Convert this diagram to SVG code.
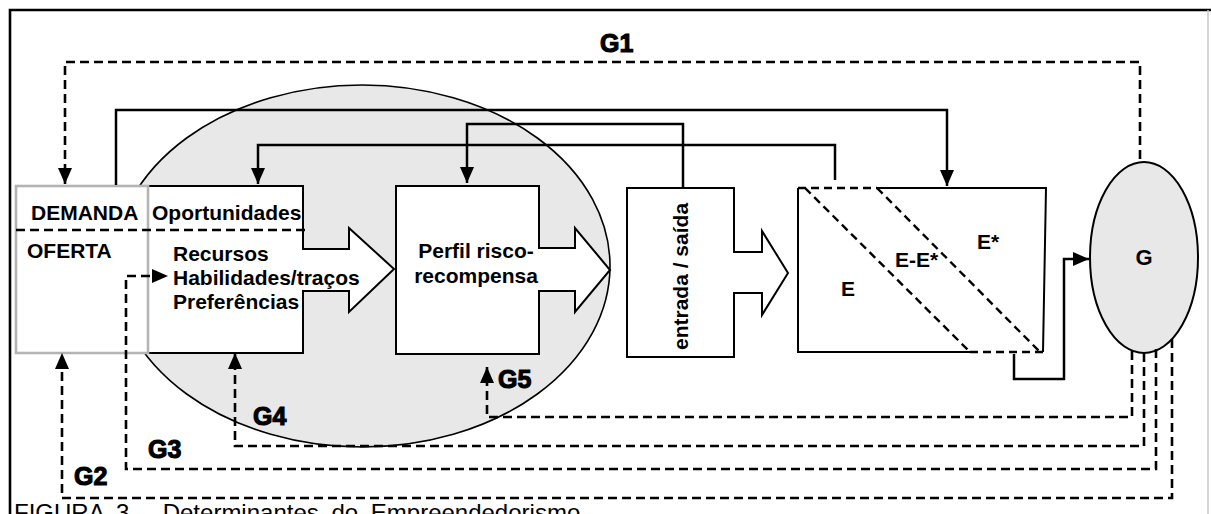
<svg xmlns="http://www.w3.org/2000/svg" width="1211" height="514" viewBox="0 0 1211 514">
<style>
  text { font-family: "Liberation Sans", Arial, sans-serif; font-weight: bold; fill: #000; }
  .lbl { font-size: 21px; }
  .glbl { font-size: 25px; stroke: #000; stroke-width: 1.1; }
  .box { fill: #fff; stroke: #000; stroke-width: 2; }
  .solid { fill: none; stroke: #000; stroke-width: 2.5; }
  .dash { fill: none; stroke: #000; stroke-width: 2.6; stroke-dasharray: 9 5; }
  .edash { fill: none; stroke: #000; stroke-width: 2.4; stroke-dasharray: 8 5; }
  .caption { font-weight: normal; font-size: 24px; }
</style>
<defs>
  <marker id="arrow" markerUnits="userSpaceOnUse" markerWidth="16" markerHeight="14" refX="16" refY="7" orient="auto">
    <path d="M0,0 L16,7 L0,14 z" fill="#000" stroke="none"/>
  </marker>
</defs>

<!-- outer frame -->
<g id="frame">
  <path d="M10,514 V10 H1211" fill="none" stroke="#000" stroke-width="2.6"/>
  <line x1="1208" y1="10" x2="1208" y2="514" stroke="#c8c8c8" stroke-width="1.5"/>
</g>

<!-- individual sphere -->
<g id="individual">
  <ellipse cx="362" cy="266" rx="248" ry="181" fill="#e8e8e8" stroke="#000" stroke-width="1.6"/>
</g>

<g id="opportunities">
  <path class="box" d="M148,186 H303 V249 H349 V228 L394,269 L349,312 V291 H303 V353 H148 Z"/>
  <text class="lbl" x="152" y="220">Oportunidades</text>
  <text class="lbl" x="173" y="261">Recursos</text>
  <text class="lbl" x="173" y="285">Habilidades/traços</text>
  <text class="lbl" x="173" y="309">Preferências</text>
</g>

<g id="demand-supply">
  <rect x="16" y="186" width="132" height="167" fill="#fff" stroke="#b4b4b4" stroke-width="2.6"/>
  <line class="dash" x1="16" y1="230" x2="307" y2="230"/>
  <text class="lbl" x="31" y="220">DEMANDA</text>
  <text class="lbl" x="27" y="258">OFERTA</text>
</g>

<g id="risk-reward">
  <path class="box" d="M396,186 H539 V248 H575 V228 L610,270 L575,312 V291 H539 V354 H396 Z"/>
  <text class="lbl" x="476" y="258" text-anchor="middle">Perfil risco-</text>
  <text class="lbl" x="476" y="283" text-anchor="middle">recompensa</text>
</g>

<g id="entry-exit">
  <path class="box" d="M627,188 H734 V252 H762 V231 L788,273 L762,315 V293 H734 V357 H627 Z"/>
  <text class="lbl" transform="translate(688,350) rotate(-90)">entrada / saída</text>
</g>

<g id="entrepreneurship">
  <rect x="798" y="188" width="246" height="164" fill="#fff" stroke="none"/>
  <path d="M877,188 H1046 L1043,352" fill="none" stroke="#000" stroke-width="2"/>
  <path d="M970,352 H798 V188" fill="none" stroke="#000" stroke-width="2"/>
  <path class="edash" d="M798,188 H877 M970,352 H1043 M805,188 L970,352 M877,188 L1040,352"/>
  <text class="lbl" x="977" y="249">E*</text>
  <text class="lbl" x="895" y="267">E-E*</text>
  <text class="lbl" x="841" y="296">E</text>
</g>

<g id="government">
  <ellipse cx="1144" cy="257.5" rx="54" ry="95.5" fill="#e8e8e8" stroke="#000" stroke-width="2"/>
  <text x="1144" y="265" font-size="22" text-anchor="middle">G</text>
</g>

<!-- connectors -->
<g id="connectors">
  <path class="solid" d="M116,185 V110 H947 V186" marker-end="url(#arrow)"/>
  <path class="solid" d="M683,187 V124 H467 V183" marker-end="url(#arrow)"/>
  <path class="solid" d="M835,180 V145 H258 V184" marker-end="url(#arrow)"/>
  <path class="solid" d="M1014,354 V379 H1064 V259 H1089" marker-end="url(#arrow)"/>
  <path class="dash" d="M1140,159 V62 H65 V184" marker-end="url(#arrow)"/>
  <path class="dash" d="M1132,351 V417 H487 V367" marker-end="url(#arrow)"/>
  <path class="dash" d="M1144,353 V446 H235 V353" marker-end="url(#arrow)"/>
  <path class="dash" d="M1156,349 V469 H126 V276 H168" marker-end="url(#arrow)"/>
  <path class="dash" d="M1172,339 V498 H62 V353" marker-end="url(#arrow)"/>
</g>

<g id="feedback-labels">
  <text class="glbl" x="600" y="52">G1</text>
  <text class="glbl" x="74" y="485">G2</text>
  <text class="glbl" x="148" y="458">G3</text>
  <text class="glbl" x="253" y="425">G4</text>
  <text class="glbl" x="498" y="388">G5</text>
</g>

<text class="caption" x="14" y="521" word-spacing="6">FIGURA 3 - Determinantes do Empreendedorismo</text>
</svg>
